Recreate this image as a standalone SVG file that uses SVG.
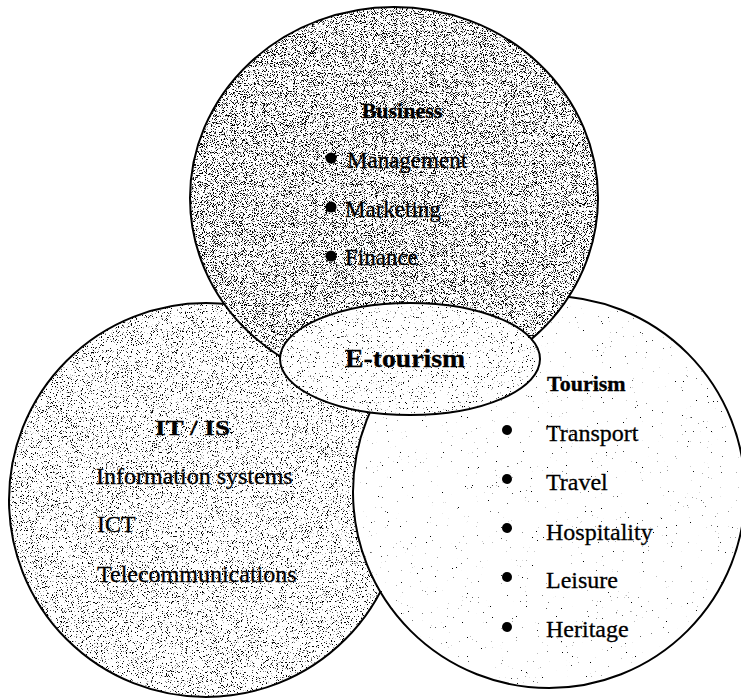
<svg xmlns="http://www.w3.org/2000/svg" width="741" height="699" viewBox="0 0 741 699">
  <style>
    .shape { fill: #ffffff; stroke: none; }
    .outline { fill: none; stroke: #000000; stroke-width: 2; }
    .ink { fill: #000000; stroke: none; }
    text { font-family: "Liberation Serif", "Times New Roman", serif; fill: #000000; stroke: #000000; stroke-width: 0.3; }
    .head { font-weight: bold; font-size: 22px; }
    .item { font-size: 24px; }
    .bItem { font-size: 23px; }
    .bullet { fill: #000000; }
  </style>
  <defs>
    <filter id="nTop" filterUnits="userSpaceOnUse" x="0" y="0" width="741" height="699" color-interpolation-filters="sRGB">
      <feTurbulence type="fractalNoise" baseFrequency="1.1" numOctaves="2" seed="7"/>
      <feColorMatrix type="matrix" values="0 0 0 0 0  0 0 0 0 0  0 0 0 0 0  1 0 0 0 0"/>
      <feComponentTransfer><feFuncA type="linear" slope="12" intercept="-6.6"/></feComponentTransfer>
      <feComposite operator="in" in2="SourceGraphic"/>
    </filter>
    <filter id="nLeft" filterUnits="userSpaceOnUse" x="0" y="0" width="741" height="699" color-interpolation-filters="sRGB">
      <feTurbulence type="fractalNoise" baseFrequency="1.2" numOctaves="2" seed="3"/>
      <feColorMatrix type="matrix" values="0 0 0 0 0  0 0 0 0 0  0 0 0 0 0  1 0 0 0 0"/>
      <feComponentTransfer><feFuncA type="linear" slope="12" intercept="-7.4"/></feComponentTransfer>
      <feComposite operator="in" in2="SourceGraphic"/>
    </filter>
    <filter id="nEll" filterUnits="userSpaceOnUse" x="0" y="0" width="741" height="699" color-interpolation-filters="sRGB">
      <feTurbulence type="fractalNoise" baseFrequency="1.2" numOctaves="2" seed="11"/>
      <feColorMatrix type="matrix" values="0 0 0 0 0  0 0 0 0 0  0 0 0 0 0  1 0 0 0 0"/>
      <feComponentTransfer><feFuncA type="linear" slope="15" intercept="-10.2"/></feComponentTransfer>
      <feComposite operator="in" in2="SourceGraphic"/>
    </filter>
    <filter id="nRight" filterUnits="userSpaceOnUse" x="0" y="0" width="741" height="699" color-interpolation-filters="sRGB">
      <feTurbulence type="fractalNoise" baseFrequency="1.2" numOctaves="2" seed="5"/>
      <feColorMatrix type="matrix" values="0 0 0 0 0  0 0 0 0 0  0 0 0 0 0  1 0 0 0 0"/>
      <feComponentTransfer><feFuncA type="linear" slope="15" intercept="-11.5"/></feComponentTransfer>
      <feComposite operator="in" in2="SourceGraphic"/>
    </filter>
  </defs>

  <rect width="741" height="699" fill="#ffffff"/>

  <g id="node-it-is">
    <circle class="shape" cx="206" cy="500" r="197"/>
    <circle class="ink" cx="206" cy="500" r="197" filter="url(#nLeft)"/>
    <circle class="outline" cx="206" cy="500" r="197"/>
    <text class="head" x="155" y="435" textLength="75" lengthAdjust="spacingAndGlyphs">IT / IS</text>
    <text class="item" x="96" y="484">Information systems</text>
    <text class="item" x="97" y="532">ICT</text>
    <text class="item" x="97" y="582">Telecommunications</text>
  </g>

  <g id="node-tourism">
    <circle class="shape" cx="549" cy="492" r="196"/>
    <circle class="ink" cx="549" cy="492" r="196" filter="url(#nRight)"/>
    <circle class="outline" cx="549" cy="492" r="196"/>
    <text class="head" x="547" y="391">Tourism</text>
    <circle class="bullet" cx="507" cy="430" r="5"/>
    <text class="item" x="546" y="441">Transport</text>
    <circle class="bullet" cx="507" cy="479" r="5"/>
    <text class="item" x="546" y="490">Travel</text>
    <circle class="bullet" cx="507" cy="528" r="5"/>
    <text class="item" x="546" y="540">Hospitality</text>
    <circle class="bullet" cx="507" cy="577" r="5"/>
    <text class="item" x="546" y="588">Leisure</text>
    <circle class="bullet" cx="507" cy="627" r="5"/>
    <text class="item" x="546" y="637">Heritage</text>
  </g>

  <g id="node-business">
    <ellipse class="shape" cx="394" cy="198" rx="204" ry="191"/>
    <ellipse class="ink" cx="394" cy="198" rx="204" ry="191" filter="url(#nTop)"/>
    <ellipse class="outline" cx="394" cy="198" rx="204" ry="191"/>
    <text class="head" x="402" y="118" text-anchor="middle">Business</text>
    <circle class="bullet" cx="331" cy="158" r="5.5"/>
    <text class="bItem" x="347" y="168">Management</text>
    <circle class="bullet" cx="331" cy="207" r="5.5"/>
    <text class="bItem" x="345" y="217">Marketing</text>
    <circle class="bullet" cx="331" cy="256" r="5.5"/>
    <text class="bItem" x="345" y="265">Finance</text>
  </g>

  <g id="node-e-tourism">
    <ellipse class="shape" cx="410" cy="359" rx="130" ry="56"/>
    <ellipse class="ink" cx="410" cy="359" rx="130" ry="56" filter="url(#nEll)"/>
    <ellipse class="outline" cx="410" cy="359" rx="130" ry="56"/>
    <text x="345" y="367" font-size="25" font-weight="bold" textLength="120" lengthAdjust="spacingAndGlyphs">E-tourism</text>
  </g>
</svg>
